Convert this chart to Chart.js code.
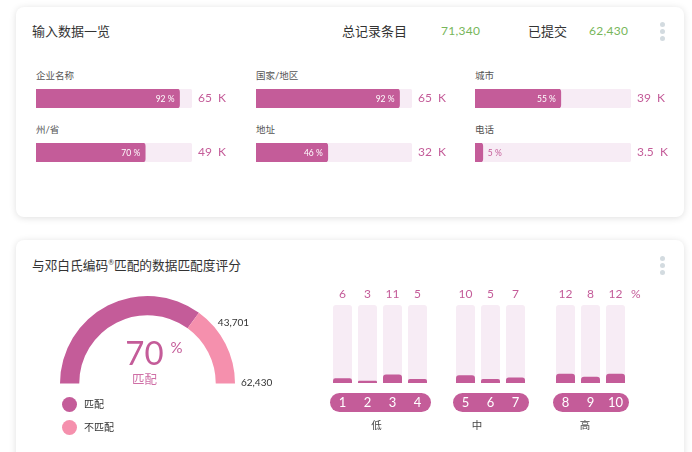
<!DOCTYPE html>
<html>
<head>
<meta charset="utf-8">
<script src="https://cdn.jsdelivr.net/npm/chart.js@4.4.1/dist/chart.umd.min.js"></script>
<style>
body { margin: 0; width: 692px; height: 452px; overflow: hidden; position: relative; background: #fff;
       font-family: Lato, "Noto Sans CJK SC", sans-serif; }
.card { position: absolute; left: 16px; width: 668px; background: #fff; border-radius: 8px;
        box-shadow: 0 1px 7px rgba(0,0,0,0.13); }
.t { position: absolute; white-space: nowrap; line-height: 1; }
canvas { position: absolute; }
.dot { position: absolute; width: 5px; height: 5px; border-radius: 50%; background: #d3dbe0; }
.lg { position: absolute; width: 15px; height: 15px; border-radius: 50%; }
</style>
</head>
<body>
<div class="card" style="top:7px;height:210px"></div>
<div class="card" style="top:240px;height:230px"></div>
<script>
// top card: input fields
var fieldNames = ['企业名称', '国家/地区', '城市', '州/省', '地址', '电话'];
var fieldPct = [92, 92, 55, 70, 46, 5];
var fieldCount = ['65 K', '65 K', '39 K', '49 K', '32 K', '3.5 K'];
var totalRecords = '71,340';
var submitted = '62,430';

// gauge
var matchLabels = ['匹配', '不匹配'];
var matchValues = [43701, 18729];
var matchPct = 70;

// score distribution
var scoreLabels = ['1', '2', '3', '4', '5', '6', '7', '8', '9', '10'];
var scorePct = [6, 3, 11, 5, 10, 5, 7, 12, 8, 12];
var scoreGroups = ['低', '中', '高'];
var groupSizes = [4, 3, 3];

var purple = '#c45c99';
var track = '#f7ecf5';
var pink = '#f590ad';
var green = '#77b65a';
var FONT = 'Lato, "Noto Sans CJK SC", sans-serif';

Chart.defaults.font.family = FONT;

function addText(html, x, cy, size, color, extra) {
    var d = document.createElement('div');
    d.className = 't';
    d.innerHTML = html;
    d.style.cssText = 'left:' + x + 'px;top:' + (cy - size / 2) + 'px;font-size:' + size + 'px;color:' + color + ';' + (extra || '');
    document.body.appendChild(d);
    return d;
}
function mkCanvas(x, y, w, h) {
    var c = document.createElement('canvas');
    c.width = w; c.height = h;
    c.style.left = x + 'px'; c.style.top = y + 'px';
    c.style.width = w + 'px'; c.style.height = h + 'px';
    document.body.appendChild(c);
    return c;
}
function kebab(x, y) {
    [0, 7, 14].forEach(function (dy) {
        var d = document.createElement('div');
        d.className = 'dot';
        d.style.left = (x - 2.5) + 'px'; d.style.top = (y + dy - 2.5) + 'px';
        document.body.appendChild(d);
    });
}

var baseOpts = {
    responsive: false,
    animation: false,
    events: [],
    plugins: { legend: { display: false }, tooltip: { enabled: false } }
};

// ---- header
addText('输入数据一览', 32, 31, 13, '#333');
addText('总记录条目', 342, 31, 13, '#333');
addText(totalRecords, 441, 31, 12, green, 'letter-spacing:0.3px');
addText('已提交', 528, 31, 13, '#333');
addText(submitted, 589, 31, 12, green, 'letter-spacing:0.3px');
kebab(662, 24);

// ---- field bars
var colX = [36, 256, 475];
var rowY = [89, 143];
fieldNames.forEach(function (name, i) {
    var x = colX[i % 3], y = rowY[Math.floor(i / 3)];
    addText(name, x, y - 13, 9.5, '#555');
    var cv = mkCanvas(x, y, 156 + 50, 19);
    new Chart(cv, {
        type: 'bar',
        data: {
            labels: [name],
            datasets: [
                { data: [fieldPct[i]], backgroundColor: purple, borderRadius: 3, grouped: false },
                { data: [100], backgroundColor: track, borderRadius: 3, borderSkipped: false, grouped: false }
            ]
        },
        options: Object.assign({}, baseOpts, {
            indexAxis: 'y',
            layout: { padding: { right: 50 } },
            datasets: { bar: { barPercentage: 1, categoryPercentage: 1 } },
            scales: { x: { display: false, min: 0, max: 100 }, y: { display: false } }
        }),
        plugins: [{
            id: 'fieldLabels',
            afterDraw: function (c) {
                var ctx = c.ctx, a = c.chartArea;
                var bar = c.getDatasetMeta(0).data[0];
                var cy = (a.top + a.bottom) / 2;
                ctx.save();
                ctx.textBaseline = 'middle';
                ctx.font = '8.5px ' + FONT;
                if (fieldPct[i] >= 20) {
                    ctx.fillStyle = '#fff';
                    ctx.textAlign = 'right';
                    ctx.fillText(fieldPct[i] + ' %', bar.x - 5, cy + 0.5);
                } else {
                    ctx.fillStyle = purple;
                    ctx.textAlign = 'left';
                    ctx.fillText(fieldPct[i] + ' %', bar.x + 5, cy + 0.5);
                }
                ctx.font = '12px ' + FONT;
                ctx.fillStyle = purple;
                ctx.textAlign = 'left';
                ctx.fillText(fieldCount[i].replace(' ', '  '), a.right + 6, cy);
                ctx.restore();
            }
        }]
    });
});

// ---- second card
addText('与邓白氏编码<span style="font-size:7px;vertical-align:5px">®</span>匹配的数据匹配度评分', 32, 265, 12.7, '#333');
kebab(662, 258);

// gauge
var gcv = mkCanvas(40, 275, 270, 125);
new Chart(gcv, {
    type: 'doughnut',
    data: {
        labels: matchLabels,
        datasets: [{ data: matchValues, backgroundColor: [purple, pink], borderWidth: 0 }]
    },
    options: Object.assign({}, baseOpts, {
        rotation: -90,
        circumference: 180,
        cutout: '78%',
        layout: { padding: { left: 20, top: 21, right: 75, bottom: 16.5 } }
    }),
    plugins: [{
        id: 'gaugeText',
        afterDraw: function (c) {
            var ctx = c.ctx;
            var arcs = c.getDatasetMeta(0).data;
            var cx = arcs[0].x, cy = arcs[0].y, r = arcs[0].outerRadius;
            var total = matchValues[0] + matchValues[1];
            ctx.save();
            ctx.textBaseline = 'middle';
            ctx.textAlign = 'center';
            ctx.fillStyle = purple;
            ctx.font = '33px ' + FONT;
            ctx.fillText(matchPct, cx - 3, cy - 29);
            ctx.font = '15px ' + FONT;
            ctx.fillText('%', cx + 29, cy - 35);
            ctx.fillStyle = '#cf6fa6';
            ctx.font = '12.5px ' + FONT;
            ctx.fillText(matchLabels[0], cx - 3, cy - 4);
            ctx.fillStyle = '#333';
            ctx.font = '10px ' + FONT;
            ctx.textAlign = 'left';
            var ea = arcs[0].endAngle;
            ctx.fillText(matchValues[0].toLocaleString('en-US'), cx + Math.cos(ea) * (r + 5) + 16, cy + Math.sin(ea) * (r + 5) + 14);
            ctx.fillText(total.toLocaleString('en-US'), cx + r + 6, cy - 1);
            ctx.restore();
        }
    }]
});

// legend
matchLabels.forEach(function (l, i) {
    var y = 404 + i * 23;
    var d = document.createElement('div');
    d.className = 'lg';
    d.style.left = '61.5px'; d.style.top = (y - 7.5) + 'px';
    d.style.background = i === 0 ? purple : pink;
    document.body.appendChild(d);
    addText(l, 84, y, 10, '#333');
});

// score bars
var groupLeft = [330, 453, 553];
var labelShift = [-4, -14, -6];
var start = 0;
scoreGroups.forEach(function (g, gi) {
    var n = groupSizes[gi];
    var labels = scoreLabels.slice(start, start + n);
    var vals = scorePct.slice(start, start + n);
    start += n;
    var cv = mkCanvas(groupLeft[gi] - 8, 280, 25 * n + 16, 160);
    new Chart(cv, {
        type: 'bar',
        data: {
            labels: labels,
            datasets: [
                { data: vals, backgroundColor: purple, borderRadius: 3, grouped: false },
                { data: labels.map(function () { return 100; }), backgroundColor: track, borderRadius: 3, borderSkipped: false, grouped: false }
            ]
        },
        options: Object.assign({}, baseOpts, {
            layout: { padding: { left: 8, right: 8, top: 25, bottom: 57 } },
            datasets: { bar: { barPercentage: 0.76, categoryPercentage: 1 } },
            scales: { x: { display: false }, y: { display: false, min: 0, max: 100 } }
        }),
        plugins: [{
            id: 'scoreLabels',
            afterDraw: function (c) {
                var ctx = c.ctx, a = c.chartArea;
                var bars = c.getDatasetMeta(0).data;
                var w = bars[0].width;
                ctx.save();
                ctx.textAlign = 'center';
                ctx.textBaseline = 'middle';
                ctx.font = '12px ' + FONT;
                ctx.fillStyle = purple;
                bars.forEach(function (b, i) { ctx.fillText(vals[i], b.x, a.top - 11); });
                var pl = bars[0].x - w / 2 - 3, pr = bars[n - 1].x + w / 2 + 4;
                ctx.beginPath();
                ctx.roundRect(pl, a.bottom + 10, pr - pl, 19, 9.5);
                ctx.fill();
                ctx.fillStyle = '#fff';
                ctx.font = '13px ' + FONT;
                bars.forEach(function (b, i) { ctx.fillText(labels[i], b.x, a.bottom + 20); });
                ctx.fillStyle = '#444';
                ctx.font = '10.5px ' + FONT;
                ctx.fillText(g, (pl + pr) / 2 + labelShift[gi], a.bottom + 43);
                ctx.restore();
            }
        }]
    });
});
addText('%', 631, 294, 12, purple);
</script>
</body>
</html>
